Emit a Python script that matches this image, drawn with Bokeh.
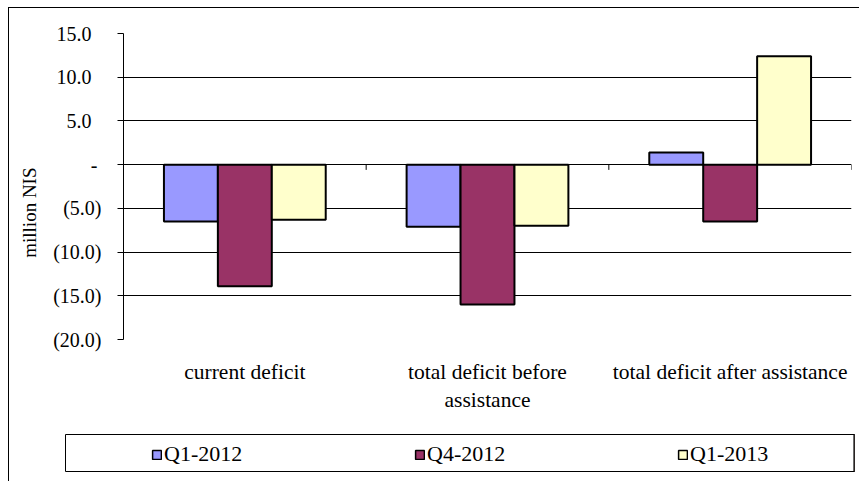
from bokeh.plotting import figure
from bokeh.models import (FactorRange, Range1d, FixedTicker, Legend, LegendItem,
                          ColumnDataSource)
from bokeh.transform import dodge
from bokeh.embed import file_html
from bokeh.resources import INLINE

# ---- data ----
categories = ["current deficit", "total deficit before\nassistance", "total deficit after assistance"]
series = ["Q1-2012", "Q4-2012", "Q1-2013"]
q1_2012 = [-6.5, -7.1, 1.4]
q4_2012 = [-13.9, -16.0, -6.5]
q1_2013 = [-6.3, -7.0, 12.4]
colors = ["#9999FF", "#993366", "#FFFFCC"]
y_ticks = [-20, -15, -10, -5, 0, 5, 10, 15]
y_tick_labels = ["(20.0)", "(15.0)", "(10.0)", "(5.0)", "-", "5.0", "10.0", "15.0"]
y_title = "million NIS"

FONT = "'Liberation Serif', 'Times New Roman', serif"


def padded(lab):
    if lab.startswith("("):
        return lab
    if lab == "-":
        return lab + "\u2009"
    return lab + "\u2002"


# ---- main chart ----
pA = figure(x_range=FactorRange(factors=categories), y_range=Range1d(-20, 15),
            width=851, height=426, min_border_left=114, min_border_right=9,
            min_border_top=25, min_border_bottom=95,
            output_backend="svg", toolbar_location=None, outline_line_color=None,
            margin=(7, 0, 0, 8),
            styles={"border-left": "1px solid black", "border-top": "1px solid black"})

bar_w = 1 / 4.5
for i, (name, vals, col) in enumerate(zip(series, [q1_2012, q4_2012, q1_2013], colors)):
    src = ColumnDataSource(dict(cat=categories, val=vals))
    pA.vbar(x=dodge("cat", (i - 1) * bar_w, range=pA.x_range), top="val", bottom=0,
            width=bar_w, source=src, fill_color=col, line_color="black", line_width=2)

# category separator ticks on the zero line
sep = ColumnDataSource(dict(cat=categories))
pA.segment(x0=dodge("cat", 0.5, range=pA.x_range), y0=0,
           x1=dodge("cat", 0.5, range=pA.x_range), y1=-0.6,
           source=sep, line_color="black", line_width=1)

pA.xgrid.visible = False
pA.ygrid.grid_line_color = "black"
pA.ygrid.grid_line_width = 1

yax = pA.yaxis[0]
yax.ticker = FixedTicker(ticks=y_ticks)
yax.major_label_overrides = {t: padded(lab) for t, lab in zip(y_ticks, y_tick_labels)}
yax.axis_line_color = "black"
yax.major_tick_line_color = "black"
yax.major_tick_out = 6
yax.major_tick_in = 0
yax.minor_tick_line_color = None
yax.major_label_standoff = 16
yax.major_label_text_font = FONT
yax.major_label_text_font_size = "20px"
yax.major_label_text_color = "black"
yax.axis_label = y_title + "\u00a0" * 11
yax.axis_label_standoff = 10
yax.axis_label_text_font = FONT
yax.axis_label_text_font_size = "19px"
yax.axis_label_text_font_style = "normal"
yax.axis_label_text_color = "black"

xax = pA.xaxis[0]
xax.axis_line_color = None
xax.major_tick_line_color = None
xax.minor_tick_line_color = None
xax.major_label_standoff = 14
xax.major_label_text_font = FONT
xax.major_label_text_font_size = "21.5px"
xax.major_label_text_color = "black"
xax.major_label_text_line_height = 1.2

# ---- legend strip ----
pB = figure(width=851, height=48, x_range=(0, 1), y_range=(0, 1),
            min_border_left=56, min_border_right=6, min_border_top=1, min_border_bottom=10,
            output_backend="svg", toolbar_location=None,
            x_axis_location=None, y_axis_location=None,
            outline_line_color="black", outline_line_width=1,
            margin=(0, 0, 0, 8), styles={"border-left": "1px solid black"})
pB.grid.visible = False
dummies = [pB.vbar(x=[5], top=[1], width=0.1, fill_color=c, line_color="black", line_width=1.5)
           for c in colors]
legend = Legend(items=[LegendItem(label=s, renderers=[r]) for s, r in zip(series, dummies)],
                orientation="horizontal", location=(86, 4), spacing=170, label_width=80,
                glyph_width=11, glyph_height=11, label_standoff=2, padding=0, margin=0,
                border_line_color=None, background_fill_alpha=0,
                label_text_font=FONT, label_text_font_size="22px", label_text_color="black")
pB.add_layout(legend)

open("out.html", "w").write(file_html([pA, pB], INLINE))
